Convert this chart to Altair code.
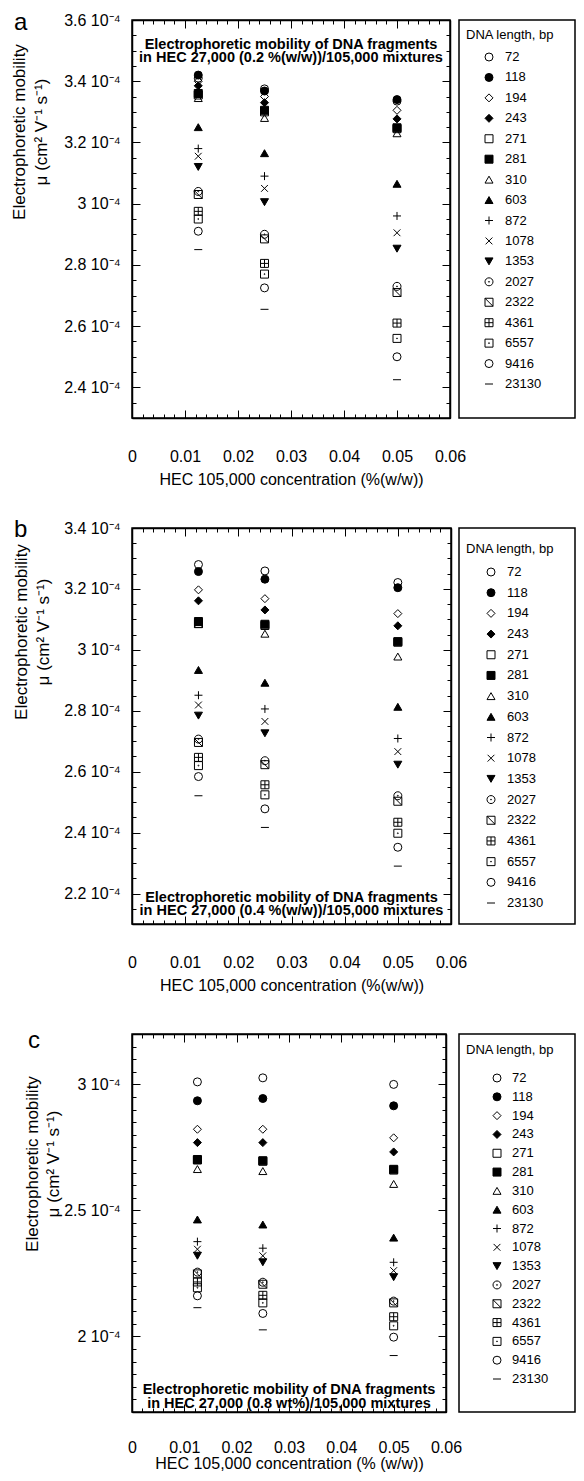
import altair as alt
import pandas as pd

FONT = "Liberation Sans"

# ---------------- data (mobility in units of 1e-4 cm2 V-1 s-1) ----------------
DNA_SIZES = ["72", "118", "194", "243", "271", "281", "310", "603", "872", "1078",
             "1353", "2027", "2322", "4361", "6557", "9416", "23130"]
X_CONC = [0.0125, 0.025, 0.05]

A_C1 = [3.41, 3.42, 3.40, 3.385, 3.355, 3.36, 3.345, 3.25, 3.18, 3.155, 3.12, 3.04, 3.03, 2.975, 2.95, 2.91, 2.85]
A_C2 = [3.375, 3.368, 3.35, 3.33, 3.30, 3.305, 3.28, 3.165, 3.09, 3.05, 3.005, 2.90, 2.885, 2.805, 2.77, 2.725, 2.655]
A_C3 = [3.335, 3.34, 3.305, 3.277, 3.245, 3.248, 3.23, 3.065, 2.96, 2.905, 2.853, 2.73, 2.71, 2.61, 2.56, 2.50, 2.425]

B_C1 = [3.28, 3.257, 3.197, 3.161, 3.086, 3.093, 3.085, 2.934, 2.851, 2.819, 2.784, 2.707, 2.696, 2.647, 2.62, 2.584, 2.521]
B_C2 = [3.259, 3.232, 3.168, 3.131, 3.08, 3.084, 3.053, 2.892, 2.806, 2.765, 2.726, 2.636, 2.623, 2.557, 2.524, 2.478, 2.417]
B_C3 = [3.221, 3.204, 3.119, 3.079, 3.025, 3.027, 2.978, 2.813, 2.709, 2.666, 2.623, 2.521, 2.503, 2.434, 2.398, 2.352, 2.29]

C_C1 = [3.01, 2.935, 2.822, 2.769, 2.70, 2.702, 2.664, 2.464, 2.376, 2.346, 2.32, 2.255, 2.248, 2.216, 2.193, 2.161, 2.114]
C_C2 = [3.026, 2.944, 2.822, 2.769, 2.695, 2.697, 2.656, 2.444, 2.35, 2.32, 2.294, 2.215, 2.207, 2.163, 2.133, 2.091, 2.026]
C_C3 = [3.0, 2.915, 2.788, 2.732, 2.66, 2.663, 2.605, 2.392, 2.294, 2.261, 2.235, 2.14, 2.133, 2.078, 2.042, 1.997, 1.924]

X_MAJOR = [0, 0.01, 0.02, 0.03, 0.04, 0.05, 0.06]
X_MINOR = [round(0.002 * i, 3) for i in range(31)]
A_Y_MAJOR = [2.4, 2.6, 2.8, 3.0, 3.2, 3.4, 3.6]
B_Y_MAJOR = [2.2, 2.4, 2.6, 2.8, 3.0, 3.2, 3.4]
C_Y_MAJOR = [2.0, 2.5, 3.0]
A_Y_MINOR = [round(2.3 + 0.05 * i, 2) for i in range(27)]
B_Y_MINOR = [round(2.1 + 0.05 * i, 2) for i in range(27)]
C_Y_MINOR = [round(1.7 + 0.05 * i, 2) for i in range(31)]

Y_TITLE_1 = "Electrophoretic mobility"
Y_TITLE_2 = "\u03bc (cm\u00b2 V\u207b\u00b9 s\u207b\u00b9)"
X_TITLE_AB = "HEC 105,000 concentration (%(w/w))"
X_TITLE_C = "HEC 105,000 concentration (% (w/w))"
LEGEND_TITLE = "DNA length, bp"
ANN_A = ["Electrophoretic mobility of DNA fragments", "in HEC 27,000 (0.2 %(w/w))/105,000 mixtures"]
ANN_B = ["Electrophoretic mobility of DNA fragments", "in HEC 27,000 (0.4 %(w/w))/105,000 mixtures"]
ANN_C = ["Electrophoretic  mobility  of  DNA  fragments", "in  HEC  27,000  (0.8  wt%)/105,000  mixtures"]

# ---------------- symbols ----------------
P_PLUS = "M-1,0L1,0M0,-1L0,1"
P_X = "M-0.85,-0.85L0.85,0.85M-0.85,0.85L0.85,-0.85"
P_DOTCIRC = "M-1,0A1,1,0,1,1,1,0A1,1,0,1,1,-1,0Z M-0.12,0A0.12,0.12,0,1,1,0.12,0A0.12,0.12,0,1,1,-0.12,0Z"
P_HATCH = "M-1,-1L1,-1L1,1L-1,1Z M-1,-1L1,1"
P_GRID = "M-1,-1L1,-1L1,1L-1,1Z M0,-1L0,1 M-1,0L1,0"
P_DOTSQ = "M-1,-1L1,-1L1,1L-1,1Z M-0.12,0A0.12,0.12,0,1,1,0.12,0A0.12,0.12,0,1,1,-0.12,0Z"
P_DASH = "M-1,0L1,0"
SHAPES = ["circle", "circle", "diamond", "diamond", "square", "square", "triangle-up", "triangle-up",
          P_PLUS, P_X, "triangle-down", P_DOTCIRC, P_HATCH, P_GRID, P_DOTSQ, "circle", P_DASH]
FILLS = ["transparent", "black", "transparent", "black", "transparent", "black", "transparent", "black",
         "transparent", "transparent", "black", "transparent", "transparent", "transparent", "transparent",
         "transparent", "transparent"]
MSIZES = [64, 64, 56, 56, 49, 49, 64, 64, 64, 49, 64, 56, 49, 49, 49, 56, 64]


def make_df(cols):
    rows = []
    for xv, col in zip(X_CONC, cols):
        for s, v in zip(DNA_SIZES, col):
            rows.append({"conc": xv, "mu": v, "bp": s})
    return pd.DataFrame(rows)


def sym_enc():
    return dict(
        shape=alt.Shape("bp:N", scale=alt.Scale(domain=DNA_SIZES, range=SHAPES), legend=None),
        fill=alt.Fill("bp:N", scale=alt.Scale(domain=DNA_SIZES, range=FILLS), legend=None),
        size=alt.Size("bp:N", scale=alt.Scale(domain=DNA_SIZES, range=MSIZES), legend=None),
    )


def axis(orient, values, tick, labels, frame, **kw):
    return alt.Axis(orient=orient, values=values, tickSize=alt.ExprRef(expr=str(-tick)),
                    labels=labels, grid=False, domain=frame, domainColor="black", domainWidth=1.5,
                    labelFlush=False, labelOverlap=False, labelFont=FONT, labelFontSize=16,
                    labelColor="black", titleFont=FONT, titleFontSize=16, titleFontWeight="normal",
                    titleColor="black", tickColor="black", tickWidth=1, minExtent=0, **kw)


def text1(txt, xv, yv, size, angle=0, align="center", baseline="middle", weight="normal", lh=None):
    kw = dict(font=FONT, fontSize=size, align=align, baseline=baseline, color="black",
              fontWeight=weight, angle=angle)
    if lh is not None:
        kw["lineHeight"] = lh
    return alt.Chart(pd.DataFrame({"s": [0]})).mark_text(**kw).encode(
        text=alt.value(txt), x=alt.value(xv), y=alt.value(yv))


def panel(df, w, h, ydom, ymaj, ymin, yt1_x, yt2_x, yt_y, xtitle, xlab_pad, xtitle_pad,
          ann, ann_y, letter, letter_x, letter_y):
    xs = alt.Scale(domain=[0, 0.06], nice=False, zero=False)
    ys = alt.Scale(domain=ydom, nice=False, zero=False)
    xlab = "format(datum.value, '~g')"
    ylab = "format(datum.value, '~g') + ' 10\u207b\u2074'"
    base = alt.Chart(df)
    pts = base.mark_point(filled=True, stroke="black", strokeWidth=1, opacity=1).encode(
        x=alt.X("conc:Q", scale=xs,
                axis=axis("bottom", X_MAJOR, 8, True, True, labelExpr=xlab,
                          labelPadding=xlab_pad, title=xtitle, titlePadding=xtitle_pad)),
        y=alt.Y("mu:Q", scale=ys,
                axis=axis("left", ymaj, 8, True, True, labelExpr=ylab, labelPadding=20,
                          title=None)),
        **sym_enc())
    l2 = base.mark_point(opacity=0).encode(
        x=alt.X("conc:Q", scale=xs, axis=axis("bottom", X_MINOR, 4, False, False, title=None)),
        y=alt.Y("mu:Q", scale=ys, axis=axis("left", ymin, 4, False, False, title=None)))
    l3 = base.mark_point(opacity=0).encode(
        x=alt.X("conc:Q", scale=xs, axis=axis("top", X_MAJOR, 8, False, True, title=None)),
        y=alt.Y("mu:Q", scale=ys, axis=axis("right", ymaj, 8, False, True, title=None)))
    l4 = base.mark_point(opacity=0).encode(
        x=alt.X("conc:Q", scale=xs, axis=axis("top", X_MINOR, 4, False, False, title=None)),
        y=alt.Y("mu:Q", scale=ys, axis=axis("right", ymin, 4, False, False, title=None)))
    layers = [pts, l2, l3, l4,
              text1(Y_TITLE_1, yt1_x, yt_y, 17, angle=270),
              text1(Y_TITLE_2, yt2_x, yt_y, 17, angle=270),
              text1(ann, w / 2, ann_y, 14.5, weight="bold", lh=13.5),
              text1(letter, letter_x, letter_y, 24, align="left", baseline="alphabetic")]
    return alt.layer(*layers).resolve_axis(
        x="independent", y="independent").properties(width=w, height=h)


def legend_box(w, h, title_y, first_y, last_y, sym_x, lab_x):
    df = pd.DataFrame({"bp": DNA_SIZES})
    yenc = alt.Y("bp:N", scale=alt.Scale(domain=DNA_SIZES, range=[first_y, last_y], padding=0),
                 axis=None)
    sym = alt.Chart(df).mark_point(filled=True, stroke="black", strokeWidth=1, opacity=1).encode(
        y=yenc, x=alt.value(sym_x), **sym_enc())
    lab = alt.Chart(df).mark_text(font=FONT, fontSize=13, align="left", baseline="middle",
                                  color="black").encode(y=yenc, x=alt.value(lab_x), text="bp:N")
    ttl = text1(LEGEND_TITLE, 7, title_y, 13, align="left")
    return alt.layer(sym, lab, ttl).properties(width=w, height=h)


pa = panel(make_df([A_C1, A_C2, A_C3]), 318, 398, [2.3, 3.6], A_Y_MAJOR, A_Y_MINOR,
           -112, -90, 112, X_TITLE_AB, 38, 7, ANN_A, 24.5, "a", -118, 10)
pb = panel(make_df([B_C1, B_C2, B_C3]), 319, 396, [2.1, 3.4], B_Y_MAJOR, B_Y_MINOR,
           -110, -88, 104, X_TITLE_AB, 38, 7, ANN_B, 369.5, "b", -118, 9)
pc = panel(make_df([C_C1, C_C2, C_C3]), 314, 378, [1.7, 3.2], C_Y_MAJOR, C_Y_MINOR,
           -99, -78, 130, X_TITLE_C, 35, 0, ANN_C, 356, "c", -104, 14)

la = legend_box(116, 398, 15, 37, 364, 30, 46)
lb = legend_box(116, 396, 21, 44, 375, 32, 48)
lc = legend_box(116, 378, 16, 44, 345, 38, 53)

chart = alt.concat(
    pa, la,
    pb, lb,
    pc, lc,
    columns=2, spacing=alt.RowColnumber(row=110, column=8), bounds="flush",
    align=alt.RowColLayoutAlign(row="each", column="each"),
).properties(
    autosize=alt.AutoSizeParams(type="none"),
    padding={"left": 124, "top": 12, "right": 444, "bottom": 1453},
    background="white",
).configure_view(stroke="black", strokeWidth=1.5)

chart.save("out.html", embed_options={"renderer": "svg", "actions": False})
